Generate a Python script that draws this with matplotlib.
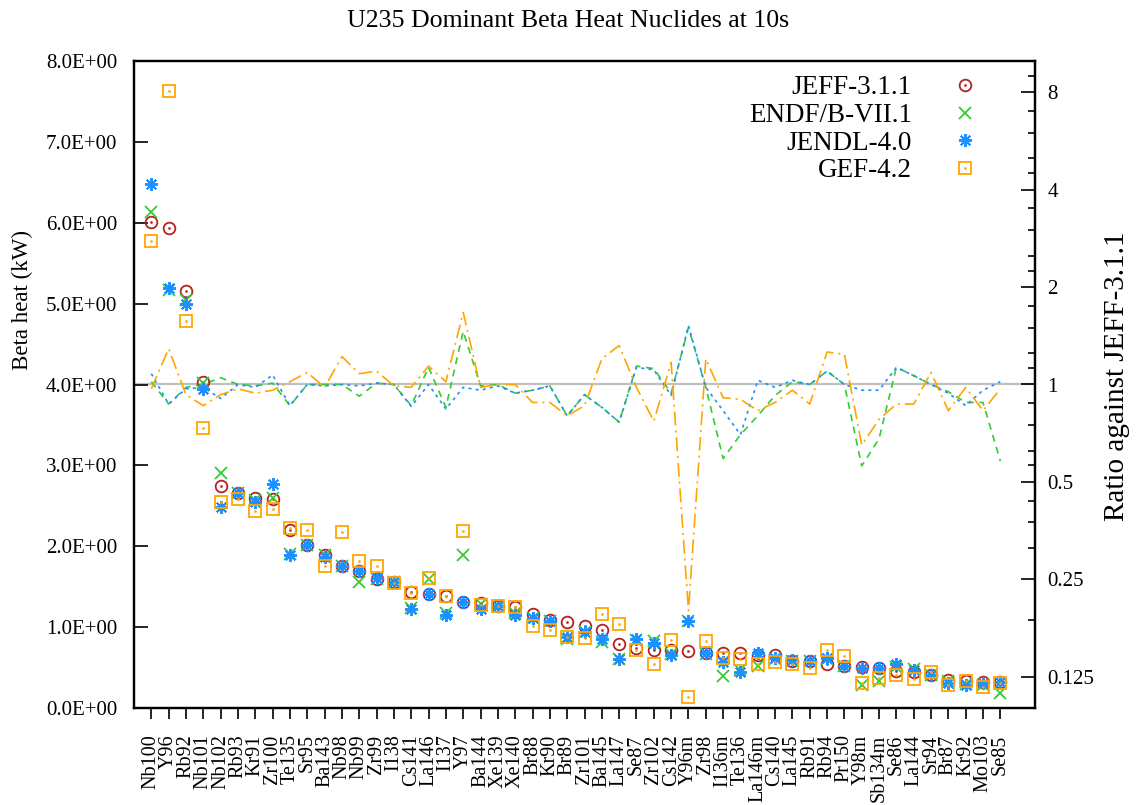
import matplotlib
matplotlib.use("Agg")
import matplotlib.pyplot as plt
import numpy as np
from matplotlib.ticker import FixedLocator, NullFormatter, FuncFormatter
from matplotlib.legend_handler import HandlerTuple

plt.rcParams['font.family'] = ['Liberation Serif', 'DejaVu Serif']
plt.rcParams['lines.scale_dashes'] = False

nuclides = ["Nb100", "Y96", "Rb92", "Nb101", "Nb102", "Rb93", "Kr91", "Zr100", "Te135", "Sr95",
            "Ba143", "Nb98", "Nb99", "Zr99", "I138", "Cs141", "La146", "I137", "Y97", "Ba144",
            "Xe139", "Xe140", "Br88", "Kr90", "Br89", "Zr101", "Ba145", "La147", "Se87", "Zr102",
            "Cs142", "Y96m", "Zr98", "I136m", "Te136", "La146m", "Cs140", "La145", "Rb91", "Rb94",
            "Pr150", "Y98m", "Sb134m", "Se86", "La144", "Sr94", "Br87", "Kr92", "Mo103", "Se85"]

jeff = [6.01, 5.94, 5.16, 4.03, 2.75, 2.66, 2.60, 2.58, 2.20, 2.02,
        1.89, 1.76, 1.70, 1.59, 1.56, 1.44, 1.41, 1.38, 1.31, 1.30,
        1.26, 1.25, 1.16, 1.09, 1.06, 1.01, 0.97, 0.79, 0.74, 0.715,
        0.715, 0.71, 0.685, 0.685, 0.68, 0.66, 0.655, 0.575, 0.575, 0.55,
        0.525, 0.51, 0.50, 0.455, 0.45, 0.41, 0.35, 0.335, 0.325, 0.32]

endf = [6.13, 5.17, 5.05, 4.02, 2.90, 2.66, 2.57, 2.60, 1.90, 2.02,
        1.89, 1.76, 1.56, 1.60, 1.56, 1.24, 1.60, 1.17, 1.89, 1.29,
        1.26, 1.17, 1.11, 1.08, 0.85, 0.94, 0.82, 0.60, 0.84, 0.83,
        0.67, 1.07, 0.67, 0.40, 0.47, 0.52, 0.61, 0.58, 0.58, 0.60,
        0.52, 0.285, 0.33, 0.51, 0.48, 0.41, 0.33, 0.295, 0.285, 0.18]

jendl = [6.48, 5.19, 5.00, 3.95, 2.49, 2.66, 2.55, 2.77, 1.89, 2.02,
         1.87, 1.76, 1.69, 1.61, 1.56, 1.23, 1.41, 1.15, 1.31, 1.23,
         1.26, 1.15, 1.11, 1.08, 0.875, 0.945, 0.85, 0.60, 0.85, 0.80,
         0.65, 1.08, 0.68, 0.57, 0.45, 0.685, 0.615, 0.59, 0.58, 0.615,
         0.52, 0.49, 0.49, 0.545, 0.47, 0.41, 0.305, 0.285, 0.31, 0.325]

gef = [5.77, 7.63, 4.78, 3.46, 2.55, 2.59, 2.43, 2.46, 2.22, 2.20,
       1.76, 2.18, 1.82, 1.75, 1.55, 1.42, 1.61, 1.39, 2.19, 1.27,
       1.26, 1.25, 1.01, 0.96, 0.88, 0.86, 1.16, 1.04, 0.72, 0.545,
       0.84, 0.14, 0.83, 0.62, 0.60, 0.545, 0.57, 0.55, 0.50, 0.72,
       0.645, 0.31, 0.375, 0.41, 0.355, 0.45, 0.285, 0.33, 0.265, 0.305]

# ratios against JEFF-3.1.1
endf_ratio = [1.02, 0.87, 0.98, 1.00, 1.05, 1.00, 0.99, 1.01, 0.86, 1.00,
              1.00, 1.00, 0.92, 1.01, 1.00, 0.86, 1.13, 0.85, 1.46, 0.99,
              1.00, 0.94, 0.96, 0.99, 0.80, 0.93, 0.85, 0.765, 1.14, 1.12,
              0.94, 1.50, 0.98, 0.59, 0.70, 0.80, 0.925, 1.02, 1.00, 1.10,
              1.00, 0.56, 0.68, 1.13, 1.065, 1.00, 0.95, 0.88, 0.88, 0.58]

jendl_ratio = [1.08, 0.87, 0.97, 0.98, 0.905, 1.00, 0.98, 1.07, 0.86, 1.00,
               0.99, 1.00, 0.99, 1.01, 1.00, 0.855, 1.00, 0.84, 0.98, 0.96,
               0.99, 0.94, 0.96, 0.99, 0.80, 0.93, 0.85, 0.765, 1.13, 1.11,
               0.925, 1.52, 0.98, 0.83, 0.70, 1.03, 0.98, 1.03, 1.00, 1.10,
               1.00, 0.96, 0.96, 1.13, 1.065, 1.00, 0.94, 0.86, 0.96, 1.02]

gef_ratio = [0.97, 1.29, 0.93, 0.86, 0.93, 0.97, 0.94, 0.96, 1.02, 1.09,
             0.98, 1.22, 1.08, 1.10, 0.99, 0.98, 1.14, 1.02, 1.67, 0.98,
             1.00, 1.00, 0.88, 0.88, 0.80, 0.86, 1.20, 1.32, 0.98, 0.77,
             1.17, 0.20, 1.20, 0.91, 0.90, 0.83, 0.88, 0.96, 0.87, 1.26,
             1.24, 0.65, 0.78, 0.87, 0.87, 1.09, 0.83, 0.98, 0.83, 0.97]

labels = ["JEFF-3.1.1", "ENDF/B-VII.1", "JENDL-4.0", "GEF-4.2"]
c_jeff, c_endf, c_jendl, c_gef = "#b22222", "#33cc33", "#1e90ff", "#ffa500"

W, H = 1136, 805
fig = plt.figure(figsize=(W / 100, H / 100), dpi=100)
L, R, T, B = 134, 1035, 61, 708
ax = fig.add_axes([L / W, 1 - B / H, (R - L) / W, (B - T) / H])
ax2 = ax.twinx()

x = np.arange(len(nuclides))

# ratio lines on the right axis
ax2.set_yscale('log')
ax2.set_ylim(0.1, 10)
ax2.axhline(1.0, color="#c0c0c0", lw=1.6, zorder=1)
ax2.plot(x, endf_ratio, color=c_endf, lw=1.2, dashes=(5, 4), zorder=2)
ax2.plot(x, jendl_ratio, color=c_jendl, lw=1.2, dashes=(2.2, 3), zorder=2)
ax2.plot(x, gef_ratio, color=c_gef, lw=1.2, dashes=(10, 3.5, 1.5, 3.5), zorder=2)

majors = [0.125, 0.25, 0.5, 1, 2, 4, 8]
minors = [0.1875, 0.3125, 0.375, 0.4375, 0.5625, 0.625, 0.75, 0.875,
          1.125, 1.25, 1.5, 1.75, 2.25, 2.5, 3, 3.5, 4.5, 5, 6, 7, 9]
ax2.yaxis.set_major_locator(FixedLocator(majors))
ax2.yaxis.set_major_formatter(FuncFormatter(lambda v, p: ('%g' % v)))
ax2.yaxis.set_minor_locator(FixedLocator(minors))
ax2.yaxis.set_minor_formatter(NullFormatter())
ax2.tick_params(axis='y', which='major', direction='in', length=10, width=1.2,
                labelsize=15, pad=9)
ax2.tick_params(axis='y', which='minor', direction='in', length=5, width=1.2)

# markers on the left axis
ax.set_zorder(ax2.get_zorder() + 1)
ax.patch.set_visible(False)
ax.set_xlim(-1, 51)
ax.set_ylim(0, 8)

ms = 8.4
h1 = ax.plot(x, jeff, ls='none', marker='o', ms=ms, mfc='none', mec=c_jeff, mew=1.3)[0]
h1d = ax.plot(x, jeff, ls='none', marker='o', ms=1.6, mfc=c_jeff, mec=c_jeff, mew=0.3)[0]
h2 = ax.plot(x, endf, ls='none', marker='x', ms=ms, mec=c_endf, mew=1.3)[0]
h3 = ax.plot(x, jendl, ls='none', marker=(8, 2, 0), ms=ms + 1, mec=c_jendl, mew=1.4)[0]
h4 = ax.plot(x, gef, ls='none', marker='s', ms=ms, mfc='none', mec=c_gef, mew=1.3)[0]
h4d = ax.plot(x, gef, ls='none', marker='o', ms=1.6, mfc=c_gef, mec=c_gef, mew=0.3)[0]

ax.set_yticks(np.arange(0, 9, 1))
ax.yaxis.set_major_formatter(FuncFormatter(lambda v, p: '%.1E' % v))
ax.tick_params(axis='y', direction='in', length=10, width=1.2, labelsize=15, pad=12,
               right=False)
ax.set_xticks(x)
ax.set_xticklabels(nuclides, rotation=90, fontsize=14.5)
ax.tick_params(axis='x', direction='out', length=8, width=1.2, pad=11, top=False)

for a in (ax, ax2):
    for s in a.spines.values():
        s.set_linewidth(1.6)

leg = ax.legend([(h1, h1d), h2, h3, (h4, h4d)], labels,
                handler_map={tuple: HandlerTuple(ndivide=1)},
                loc='upper right', bbox_to_anchor=(0.955, 1.003), frameon=False,
                markerfirst=False, fontsize=19.5, handlelength=1.0, handletextpad=1.45,
                labelspacing=0.1, borderaxespad=0.2)
for t in leg.get_texts():
    t.set_ha('right')

fig.text(0.5, 1 - 21 / H, "U235 Dominant Beta Heat Nuclides at 10s",
         ha='center', va='center', fontsize=18.6)
fig.text(22 / W, 1 - 300 / H, "Beta heat (kW)", rotation=90,
         ha='center', va='center', fontsize=16.5)
fig.text(1117 / W, 1 - 376 / H, "Ratio against JEFF-3.1.1", rotation=90,
         ha='center', va='center', fontsize=21)

fig.savefig("out.png", dpi=100)
